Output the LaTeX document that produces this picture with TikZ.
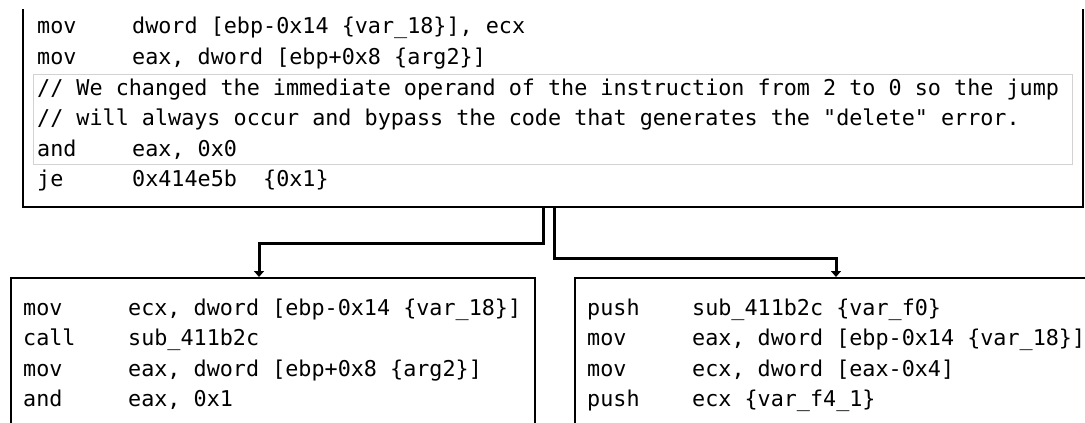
\documentclass[tikz,border=0pt]{standalone}
\usepackage{fontspec}
\setmonofont{DejaVu Sans Mono}
\usetikzlibrary{arrows.meta,positioning}

\begin{document}
\begin{tikzpicture}[x=1pt,y=-1pt]
\tikzstyle{every node}+=[inner sep=0pt]
\tikzstyle{codebox}=[draw=black,line width=2pt,rectangle]
\tikzstyle{code}=[anchor=base west,font=\ttfamily\fontsize{21.76pt}{30.6pt}\selectfont]
\tikzstyle{link}=[draw=black,line width=3pt,-{Triangle[width=10pt,length=6pt]}]
\useasboundingbox (0,0) rectangle (1085,423);
\fill [white] (0,0) rectangle (1085,423);
\clip (0,9) rectangle (1085,423);
\node [codebox,minimum width=1060pt,minimum height=240pt,anchor=south west] (head) at (22,208) {};
\node [codebox,minimum width=524pt,minimum height=200pt,anchor=north west] (left) at (10,277) {};
\node [codebox,minimum width=522pt,minimum height=200pt,anchor=north west] (right) at (574,277) {};
\draw [gray!35,line width=0.8pt] (33,74) rectangle (1072,164);
\node [code] (headcode) at (37,34) {\begin{tabular}[t]{@{}p{95pt}@{}l@{}}
mov & dword [ebp-0x14 \{var\_18\}], ecx\\
mov & eax, dword [ebp+0x8 \{arg2\}]\\
\multicolumn{2}{@{}l@{}}{// We changed the immediate operand of the instruction from 2 to 0 so the jump}\\
\multicolumn{2}{@{}l@{}}{// will always occur and bypass the code that generates the "delete" error.}\\
and & eax, 0x0\\
je & 0x414e5b\ \ \{0x1\}
\end{tabular}};
\node [code] (leftcode) at (23,315) {\begin{tabular}[t]{@{}p{105pt}@{}l@{}}
mov & ecx, dword [ebp-0x14 \{var\_18\}]\\
call & sub\_411b2c\\
mov & eax, dword [ebp+0x8 \{arg2\}]\\
and & eax, 0x1
\end{tabular}};
\node [code] (rightcode) at (587,315) {\begin{tabular}[t]{@{}p{105pt}@{}l@{}}
push & sub\_411b2c \{var\_f0\}\\
mov & eax, dword [ebp-0x14 \{var\_18\}]\\
mov & ecx, dword [eax-0x4]\\
push & ecx \{var\_f4\_1\}
\end{tabular}};
\draw [link] ([xshift=-10pt]head.south) -- ++(0,35) -| ([xshift=-14pt]left.north);
\draw [link] ([xshift=1pt]head.south) -- ++(0,50) -| (right.north);
\end{tikzpicture}
\end{document}
